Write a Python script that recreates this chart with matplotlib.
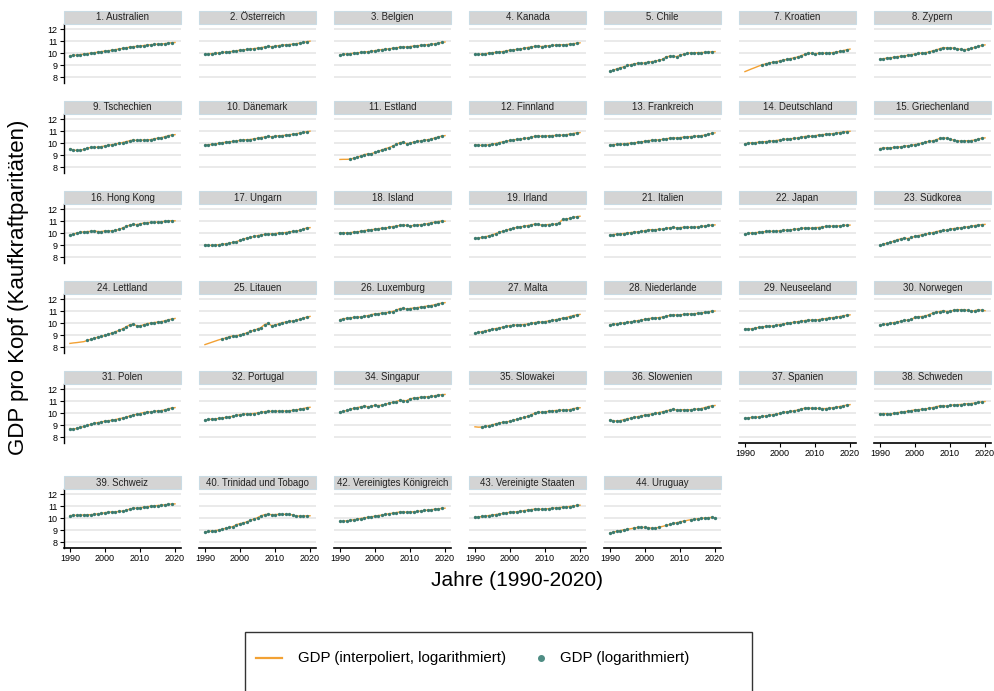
import numpy as np
import matplotlib
matplotlib.use("Agg")
import matplotlib.pyplot as plt
from matplotlib.patches import Rectangle
from matplotlib.lines import Line2D

plt.rcParams['font.family'] = ['Liberation Sans', 'DejaVu Sans']

years = list(range(1990, 2021))

labels = ["1. Australien", "2. Österreich", "3. Belgien", "4. Kanada", "5. Chile", "7. Kroatien", "8. Zypern",
          "9. Tschechien", "10. Dänemark", "11. Estland", "12. Finnland", "13. Frankreich", "14. Deutschland", "15. Griechenland",
          "16. Hong Kong", "17. Ungarn", "18. Island", "19. Irland", "21. Italien", "22. Japan", "23. Südkorea",
          "24. Lettland", "25. Litauen", "26. Luxemburg", "27. Malta", "28. Niederlande", "29. Neuseeland", "30. Norwegen",
          "31. Polen", "32. Portugal", "34. Singapur", "35. Slowakei", "36. Slowenien", "37. Spanien", "38. Schweden",
          "39. Schweiz", "40. Trinidad und Tobago", "42. Vereinigtes Königreich", "43. Vereinigte Staaten", "44. Uruguay"]

gdp_aus = [9.78, 9.80, 9.83, 9.87, 9.91, 9.95, 9.99, 10.03, 10.07, 10.12, 10.16, 10.19, 10.24, 10.28, 10.34, 10.38, 10.43, 10.49, 10.53, 10.55, 10.57, 10.62, 10.67, 10.69, 10.72, 10.74, 10.75, 10.78, 10.82, 10.86, 10.88]
gdp_aut = [9.88, 9.92, 9.95, 9.97, 10.01, 10.05, 10.08, 10.11, 10.14, 10.18, 10.24, 10.26, 10.30, 10.32, 10.37, 10.40, 10.45, 10.50, 10.55, 10.53, 10.56, 10.62, 10.66, 10.68, 10.71, 10.74, 10.78, 10.82, 10.88, 10.94, 10.99]
gdp_bel = [9.85, 9.89, 9.93, 9.95, 9.99, 10.02, 10.05, 10.09, 10.11, 10.15, 10.20, 10.25, 10.29, 10.31, 10.35, 10.39, 10.43, 10.48, 10.51, 10.50, 10.54, 10.58, 10.61, 10.63, 10.67, 10.70, 10.73, 10.77, 10.82, 10.88, 10.92]
gdp_can = [9.89, 9.89, 9.91, 9.94, 9.99, 10.03, 10.05, 10.09, 10.12, 10.18, 10.24, 10.27, 10.30, 10.34, 10.39, 10.46, 10.51, 10.55, 10.58, 10.54, 10.57, 10.61, 10.63, 10.66, 10.70, 10.68, 10.70, 10.74, 10.78, 10.81, 10.85]
gdp_chl = [8.47, 8.57, 8.68, 8.77, 8.85, 8.96, 9.03, 9.10, 9.14, 9.13, 9.19, 9.24, 9.28, 9.33, 9.40, 9.47, 9.68, 9.73, 9.72, 9.70, 9.80, 9.90, 9.98, 10.01, 10.02, 10.03, 10.04, 10.05, 10.08, 10.10, 10.12]
gdp_hrv = [8.45, 8.57, 8.69, 8.80, 8.92, 9.03, 9.10, 9.18, 9.23, 9.27, 9.35, 9.41, 9.47, 9.53, 9.60, 9.67, 9.77, 9.88, 10.00, 9.97, 9.95, 9.97, 9.98, 9.99, 10.00, 10.03, 10.08, 10.13, 10.20, 10.27, 10.33]
gdp_cyp = [9.50, 9.52, 9.58, 9.60, 9.65, 9.70, 9.73, 9.76, 9.81, 9.86, 9.92, 9.97, 10.00, 10.03, 10.08, 10.18, 10.25, 10.35, 10.45, 10.43, 10.42, 10.41, 10.36, 10.30, 10.28, 10.30, 10.38, 10.47, 10.55, 10.63, 10.68]
gdp_cze = [9.52, 9.42, 9.38, 9.40, 9.47, 9.58, 9.63, 9.64, 9.65, 9.70, 9.76, 9.82, 9.86, 9.92, 9.98, 10.04, 10.11, 10.19, 10.25, 10.22, 10.22, 10.25, 10.26, 10.28, 10.35, 10.40, 10.44, 10.52, 10.60, 10.67, 10.70]
gdp_dnk = [9.82, 9.86, 9.89, 9.91, 9.98, 10.03, 10.07, 10.11, 10.13, 10.17, 10.23, 10.26, 10.28, 10.29, 10.35, 10.39, 10.46, 10.50, 10.55, 10.52, 10.57, 10.60, 10.62, 10.65, 10.69, 10.73, 10.77, 10.83, 10.88, 10.94, 10.99]
gdp_est = [8.63, 8.64, 8.64, 8.66, 8.74, 8.83, 8.92, 9.04, 9.09, 9.11, 9.22, 9.32, 9.43, 9.53, 9.62, 9.74, 9.88, 10.02, 10.08, 9.95, 9.98, 10.08, 10.14, 10.18, 10.23, 10.27, 10.33, 10.42, 10.50, 10.58, 10.62]
gdp_fin = [9.86, 9.82, 9.80, 9.81, 9.86, 9.92, 9.96, 10.04, 10.10, 10.15, 10.22, 10.27, 10.30, 10.32, 10.38, 10.42, 10.48, 10.56, 10.62, 10.55, 10.57, 10.61, 10.62, 10.63, 10.64, 10.66, 10.69, 10.74, 10.79, 10.85, 10.87]
gdp_fra = [9.83, 9.86, 9.89, 9.90, 9.93, 9.96, 9.99, 10.02, 10.06, 10.09, 10.15, 10.20, 10.23, 10.24, 10.27, 10.30, 10.35, 10.40, 10.43, 10.42, 10.45, 10.49, 10.51, 10.54, 10.56, 10.58, 10.61, 10.66, 10.73, 10.80, 10.85]
gdp_deu = [9.94, 9.99, 10.02, 10.03, 10.07, 10.10, 10.12, 10.15, 10.18, 10.21, 10.26, 10.30, 10.33, 10.35, 10.39, 10.42, 10.48, 10.54, 10.58, 10.55, 10.60, 10.67, 10.70, 10.72, 10.76, 10.78, 10.82, 10.87, 10.92, 10.96, 10.98]
gdp_grc = [9.54, 9.58, 9.60, 9.60, 9.63, 9.66, 9.69, 9.74, 9.77, 9.81, 9.87, 9.93, 10.00, 10.07, 10.14, 10.18, 10.26, 10.38, 10.42, 10.41, 10.33, 10.24, 10.19, 10.17, 10.18, 10.19, 10.20, 10.25, 10.32, 10.40, 10.43]
gdp_hkg = [9.82, 9.91, 10.00, 10.06, 10.10, 10.12, 10.14, 10.18, 10.12, 10.12, 10.18, 10.18, 10.19, 10.22, 10.30, 10.42, 10.55, 10.65, 10.72, 10.70, 10.76, 10.83, 10.86, 10.88, 10.90, 10.91, 10.93, 10.97, 11.02, 11.03, 11.02]
gdp_hun = [9.02, 8.97, 8.97, 8.99, 9.03, 9.07, 9.10, 9.16, 9.22, 9.28, 9.40, 9.50, 9.58, 9.64, 9.71, 9.78, 9.84, 9.88, 9.94, 9.92, 9.95, 9.99, 10.01, 10.04, 10.09, 10.13, 10.15, 10.22, 10.32, 10.42, 10.45]
gdp_isl = [10.02, 10.02, 10.00, 10.03, 10.08, 10.10, 10.15, 10.20, 10.25, 10.28, 10.31, 10.37, 10.39, 10.40, 10.48, 10.54, 10.57, 10.63, 10.68, 10.63, 10.60, 10.63, 10.66, 10.70, 10.72, 10.78, 10.86, 10.90, 10.96, 11.00, 10.98]
gdp_irl = [9.55, 9.58, 9.63, 9.69, 9.76, 9.86, 9.96, 10.07, 10.15, 10.24, 10.33, 10.40, 10.47, 10.52, 10.56, 10.62, 10.68, 10.74, 10.72, 10.66, 10.68, 10.71, 10.72, 10.75, 10.83, 11.13, 11.16, 11.22, 11.30, 11.36, 11.40]
gdp_ita = [9.82, 9.87, 9.91, 9.93, 9.96, 10.01, 10.04, 10.07, 10.10, 10.13, 10.20, 10.26, 10.28, 10.28, 10.31, 10.33, 10.38, 10.44, 10.47, 10.43, 10.45, 10.48, 10.48, 10.47, 10.49, 10.51, 10.55, 10.59, 10.63, 10.66, 10.68]
gdp_jpn = [9.90, 9.98, 10.01, 10.03, 10.06, 10.09, 10.13, 10.15, 10.14, 10.15, 10.20, 10.22, 10.24, 10.26, 10.31, 10.34, 10.38, 10.42, 10.43, 10.39, 10.45, 10.46, 10.50, 10.55, 10.56, 10.58, 10.57, 10.60, 10.63, 10.65, 10.66]
gdp_kor = [8.96, 9.08, 9.15, 9.23, 9.33, 9.44, 9.52, 9.58, 9.53, 9.63, 9.73, 9.78, 9.86, 9.90, 9.97, 10.03, 10.10, 10.18, 10.22, 10.23, 10.32, 10.37, 10.41, 10.44, 10.47, 10.52, 10.56, 10.62, 10.67, 10.70, 10.72]
gdp_lva = [8.30, 8.34, 8.37, 8.41, 8.45, 8.56, 8.64, 8.74, 8.82, 8.88, 8.97, 9.07, 9.17, 9.27, 9.39, 9.52, 9.67, 9.84, 9.92, 9.78, 9.76, 9.85, 9.95, 9.99, 10.04, 10.07, 10.11, 10.18, 10.26, 10.33, 10.38]
gdp_ltu = [8.20, 8.30, 8.40, 8.50, 8.60, 8.68, 8.76, 8.86, 8.93, 8.94, 9.00, 9.09, 9.18, 9.31, 9.40, 9.50, 9.62, 9.87, 9.97, 9.78, 9.83, 9.93, 10.02, 10.08, 10.13, 10.17, 10.22, 10.31, 10.40, 10.49, 10.55]
gdp_lux = [10.28, 10.36, 10.39, 10.44, 10.47, 10.49, 10.51, 10.56, 10.62, 10.70, 10.76, 10.78, 10.83, 10.85, 10.90, 10.96, 11.05, 11.20, 11.22, 11.17, 11.21, 11.25, 11.28, 11.33, 11.37, 11.42, 11.46, 11.52, 11.60, 11.66, 11.70]
gdp_mlt = [9.13, 9.21, 9.28, 9.35, 9.41, 9.49, 9.54, 9.60, 9.66, 9.72, 9.79, 9.80, 9.85, 9.86, 9.87, 9.92, 9.97, 10.03, 10.08, 10.07, 10.12, 10.17, 10.22, 10.27, 10.33, 10.40, 10.45, 10.54, 10.61, 10.68, 10.72]
gdp_nld = [9.86, 9.90, 9.94, 9.97, 10.02, 10.06, 10.10, 10.15, 10.20, 10.25, 10.31, 10.37, 10.40, 10.42, 10.45, 10.50, 10.56, 10.63, 10.69, 10.66, 10.68, 10.72, 10.74, 10.76, 10.78, 10.80, 10.83, 10.88, 10.93, 10.98, 11.00]
gdp_nzl = [9.52, 9.50, 9.52, 9.58, 9.64, 9.68, 9.72, 9.75, 9.75, 9.81, 9.87, 9.92, 9.98, 10.02, 10.07, 10.11, 10.15, 10.20, 10.24, 10.24, 10.25, 10.28, 10.33, 10.37, 10.42, 10.45, 10.48, 10.54, 10.60, 10.65, 10.68]
gdp_nor = [9.83, 9.88, 9.93, 9.98, 10.04, 10.08, 10.16, 10.22, 10.24, 10.31, 10.48, 10.53, 10.54, 10.59, 10.70, 10.82, 10.92, 10.95, 11.03, 10.96, 10.98, 11.06, 11.12, 11.10, 11.12, 11.05, 10.98, 11.03, 11.10, 11.07, 11.03]
gdp_pol = [8.70, 8.66, 8.72, 8.80, 8.88, 8.97, 9.06, 9.14, 9.20, 9.26, 9.32, 9.36, 9.40, 9.45, 9.53, 9.58, 9.65, 9.75, 9.83, 9.89, 9.96, 10.04, 10.08, 10.09, 10.13, 10.18, 10.20, 10.26, 10.34, 10.42, 10.45]
gdp_prt = [9.40, 9.46, 9.49, 9.51, 9.55, 9.60, 9.63, 9.68, 9.74, 9.80, 9.86, 9.90, 9.93, 9.94, 9.96, 10.00, 10.06, 10.11, 10.15, 10.14, 10.16, 10.16, 10.15, 10.17, 10.19, 10.22, 10.26, 10.31, 10.37, 10.44, 10.48]
gdp_sgp = [10.06, 10.14, 10.22, 10.31, 10.40, 10.45, 10.52, 10.58, 10.52, 10.56, 10.65, 10.62, 10.66, 10.72, 10.82, 10.89, 10.96, 11.05, 11.04, 11.03, 11.18, 11.24, 11.27, 11.31, 11.34, 11.36, 11.38, 11.43, 11.50, 11.53, 11.55]
gdp_svk = [8.85, 8.82, 8.83, 8.88, 8.95, 9.02, 9.10, 9.17, 9.23, 9.26, 9.32, 9.40, 9.48, 9.55, 9.63, 9.72, 9.84, 9.98, 10.08, 10.05, 10.10, 10.14, 10.18, 10.21, 10.23, 10.25, 10.24, 10.28, 10.35, 10.42, 10.44]
gdp_svn = [9.43, 9.35, 9.33, 9.37, 9.45, 9.52, 9.58, 9.65, 9.70, 9.76, 9.82, 9.87, 9.93, 9.97, 10.04, 10.10, 10.17, 10.25, 10.32, 10.25, 10.25, 10.28, 10.27, 10.27, 10.31, 10.33, 10.37, 10.45, 10.53, 10.60, 10.63]
gdp_esp = [9.55, 9.60, 9.63, 9.64, 9.68, 9.72, 9.76, 9.81, 9.86, 9.91, 9.98, 10.05, 10.10, 10.13, 10.18, 10.25, 10.33, 10.40, 10.43, 10.40, 10.38, 10.38, 10.37, 10.37, 10.40, 10.44, 10.48, 10.54, 10.60, 10.66, 10.70]
gdp_swe = [9.94, 9.95, 9.94, 9.92, 9.97, 10.03, 10.07, 10.11, 10.15, 10.20, 10.27, 10.28, 10.31, 10.34, 10.40, 10.45, 10.52, 10.59, 10.62, 10.57, 10.63, 10.68, 10.69, 10.71, 10.74, 10.78, 10.79, 10.83, 10.88, 10.93, 10.96]
gdp_che = [10.20, 10.22, 10.23, 10.24, 10.26, 10.27, 10.28, 10.31, 10.35, 10.38, 10.45, 10.48, 10.51, 10.52, 10.55, 10.58, 10.64, 10.74, 10.82, 10.82, 10.85, 10.90, 10.94, 10.98, 11.02, 11.04, 11.07, 11.10, 11.14, 11.17, 11.18]
gdp_tto = [8.83, 8.88, 8.92, 8.95, 9.00, 9.08, 9.15, 9.22, 9.29, 9.45, 9.53, 9.60, 9.68, 9.82, 9.92, 10.03, 10.18, 10.28, 10.32, 10.28, 10.29, 10.30, 10.31, 10.31, 10.30, 10.26, 10.18, 10.16, 10.17, 10.18, 10.19]
gdp_gbr = [9.72, 9.74, 9.77, 9.81, 9.86, 9.91, 9.96, 10.02, 10.06, 10.10, 10.16, 10.21, 10.25, 10.30, 10.36, 10.40, 10.45, 10.50, 10.52, 10.48, 10.50, 10.52, 10.55, 10.59, 10.63, 10.66, 10.69, 10.73, 10.77, 10.80, 10.82]
gdp_usa = [10.06, 10.08, 10.13, 10.16, 10.21, 10.25, 10.29, 10.34, 10.38, 10.43, 10.48, 10.50, 10.52, 10.56, 10.61, 10.66, 10.70, 10.74, 10.75, 10.72, 10.75, 10.78, 10.81, 10.84, 10.87, 10.90, 10.92, 10.96, 11.00, 11.05, 11.07]
gdp_ury = [8.75, 8.82, 8.90, 8.95, 9.02, 9.06, 9.11, 9.17, 9.22, 9.22, 9.22, 9.20, 9.14, 9.15, 9.24, 9.30, 9.38, 9.46, 9.55, 9.60, 9.68, 9.74, 9.80, 9.86, 9.90, 9.93, 9.97, 10.00, 10.03, 10.05, 10.02]

series = [gdp_aus, gdp_aut, gdp_bel, gdp_can, gdp_chl, gdp_hrv, gdp_cyp,
          gdp_cze, gdp_dnk, gdp_est, gdp_fin, gdp_fra, gdp_deu, gdp_grc,
          gdp_hkg, gdp_hun, gdp_isl, gdp_irl, gdp_ita, gdp_jpn, gdp_kor,
          gdp_lva, gdp_ltu, gdp_lux, gdp_mlt, gdp_nld, gdp_nzl, gdp_nor,
          gdp_pol, gdp_prt, gdp_sgp, gdp_svk, gdp_svn, gdp_esp, gdp_swe,
          gdp_che, gdp_tto, gdp_gbr, gdp_usa, gdp_ury]

# first / last year with an observed (non-interpolated) value
obs_first = [1990, 1990, 1990, 1990, 1990, 1995, 1990,
             1990, 1990, 1993, 1990, 1990, 1990, 1990,
             1990, 1990, 1990, 1990, 1990, 1990, 1990,
             1995, 1995, 1990, 1990, 1990, 1990, 1990,
             1990, 1990, 1990, 1992, 1990, 1990, 1990,
             1990, 1990, 1990, 1990, 1990]
obs_last = [2019] * 39 + [2020]
obs_gaps = {"44. Uruguay": [1996, 2005, 2012]}

yticks = [8, 9, 10, 11, 12]
xticks = [1990, 2000, 2010, 2020]
legend_labels = ['GDP (interpoliert, logarithmiert)', 'GDP (logarithmiert)']

W, H = 994, 691
fig = plt.figure(figsize=(W / 100, H / 100), dpi=100)

col_left = [64 + 135 * c for c in range(7)]
row_top = [24, 114, 204, 294, 384, 489]
pw, ph = 117, 59

line_col = '#f2a134'
dot_col = '#3a7b70'
n = len(labels)
for i in range(n):
    r, c = divmod(i, 7)
    left = col_left[c] / W
    bottom = 1 - (row_top[r] + ph) / H
    ax = fig.add_axes([left, bottom, pw / W, ph / H])
    ax.set_xlim(1988.3, 2021.7)
    ax.set_ylim(7.5, 12.42)
    for s in ['top', 'right']:
        ax.spines[s].set_visible(False)
    for yv in yticks:
        ax.axhline(yv, color='#e8e8e8', lw=1.3, zorder=0)
    vals = np.array(series[i])
    yrs = np.array(years)
    ax.plot(yrs, vals, color=line_col, lw=1.0, zorder=2)
    gaps = obs_gaps.get(labels[i], [])
    mask = (yrs >= obs_first[i]) & (yrs <= obs_last[i]) & ~np.isin(yrs, gaps)
    ax.plot(yrs[mask], vals[mask], 'o', color=dot_col, ms=2.4, mew=0, zorder=3)
    if c == 0:
        ax.spines['left'].set_linewidth(1.0)
        ax.set_yticks(yticks)
        ax.set_yticklabels([str(v) for v in yticks], fontsize=6.5)
        ax.tick_params(axis='y', length=3, width=0.8, pad=1.5)
    else:
        ax.spines['left'].set_visible(False)
        ax.set_yticks([])
    is_bottom = (i + 7 >= n)
    if is_bottom:
        ax.spines['bottom'].set_linewidth(1.2)
        ax.set_xticks(xticks)
        ax.set_xticklabels([str(v) for v in xticks], fontsize=6.5)
        ax.tick_params(axis='x', length=3, width=0.8, pad=1.5)
    else:
        ax.spines['bottom'].set_visible(False)
        ax.set_xticks([])
    strip_h = 13 / ph
    ax.add_patch(Rectangle((0, 1.0), 1, strip_h, transform=ax.transAxes, clip_on=False,
                           facecolor='#d4d4d4', edgecolor='#c9dbe4', lw=0.8, zorder=5))
    ax.text(0.5, 1.0 + strip_h / 2, labels[i], transform=ax.transAxes, ha='center', va='center',
            fontsize=6.9, color='#222222', zorder=6, clip_on=False)

fig.text(19 / W, 1 - 287 / H, 'GDP pro Kopf (Kaufkraftparitäten)', rotation=90, ha='center', va='center', fontsize=16)
fig.text(517 / W, 1 - 580 / H, 'Jahre (1990-2020)', ha='center', va='center', fontsize=15)

# legend box (extends beyond the bottom edge)
fig.add_artist(Rectangle((245 / W, -0.05), (752 - 245) / W, (1 - 632 / H) + 0.05,
                         transform=fig.transFigure, facecolor='white', edgecolor='#333333', lw=1.0))
ly = 1 - 658 / H
fig.add_artist(Line2D([256 / W, 282 / W], [ly, ly], transform=fig.transFigure, color=line_col, lw=1.6))
fig.text(298 / W, ly, legend_labels[0], ha='left', va='center', fontsize=10.8)
fig.add_artist(Line2D([541 / W], [ly], transform=fig.transFigure, color='#4f8d84', marker='o', ls='none', ms=4))
fig.text(560 / W, ly, legend_labels[1], ha='left', va='center', fontsize=10.8)

fig.savefig('out.png', dpi=100)
